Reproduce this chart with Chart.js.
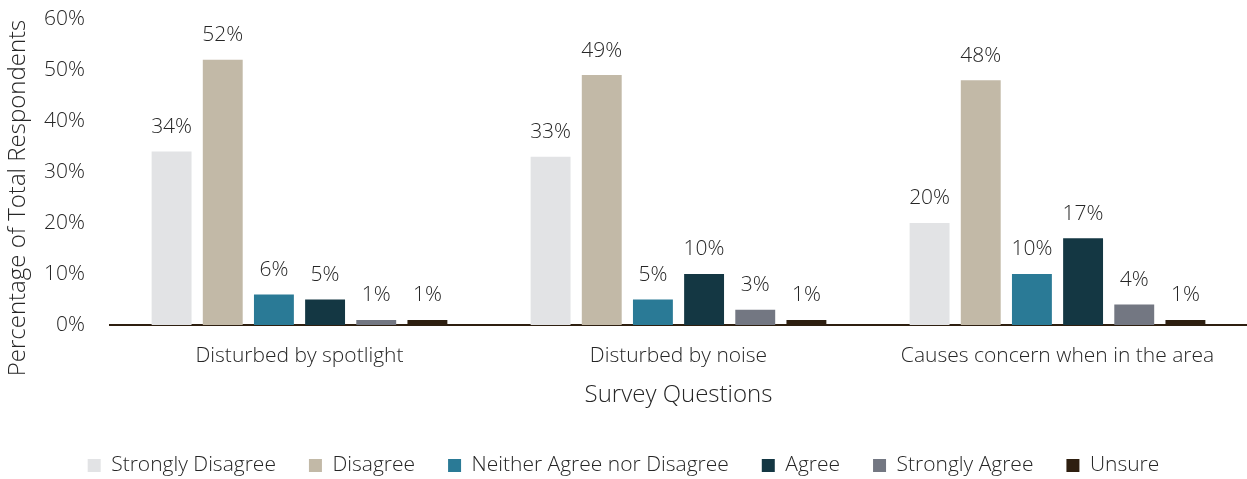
<!DOCTYPE html>
<html>
<head>
<meta charset="utf-8">
<script src="https://cdn.jsdelivr.net/npm/chart.js@4"></script>
<style>
  html, body { margin: 0; padding: 0; background: #fff; }
  #wrap { width: 1247px; height: 479px; }
</style>
</head>
<body>
<div id="wrap"><canvas id="surveyChart"></canvas></div>
<script>
const questions = ["Disturbed by spotlight", "Disturbed by noise", "Causes concern when in the area"];
const responses = ["Strongly Disagree", "Disagree", "Neither Agree nor Disagree", "Agree", "Strongly Agree", "Unsure"];
const strongDisagree = [34, 33, 20];
const disagree = [52, 49, 48];
const neither = [6, 5, 10];
const agree = [5, 10, 17];
const strongAgree = [1, 3, 4];
const unsure = [1, 1, 1];
const yTicks = [0, 10, 20, 30, 40, 50, 60];

const seriesValues = [strongDisagree, disagree, neither, agree, strongAgree, unsure];
const seriesColors = ["#e2e3e5", "#c2b9a7", "#2a7a96", "#143743", "#737782", "#2e1f10"];

const FONT = "'Open Sans', sans-serif";
const TEXT = "#262626";
const Y_TITLE = "Percentage of Total Respondents";

// Draws the percentage above each bar
const valueLabels = {
  id: "valueLabels",
  afterDatasetsDraw(chart) {
    const ctx = chart.ctx;
    ctx.save();
    ctx.font = "300 21px " + FONT;
    ctx.fillStyle = TEXT;
    ctx.textAlign = "center";
    ctx.textBaseline = "bottom";
    chart.data.datasets.forEach((ds, i) => {
      chart.getDatasetMeta(i).data.forEach((bar, j) => {
        ctx.fillText(ds.data[j] + "%", bar.x, bar.y - 14);
      });
    });
    ctx.restore();
  }
};

// Y title, sitting a little below the middle of the plot
const yTitle = {
  id: "yTitle",
  afterDraw(chart) {
    const ctx = chart.ctx;
    const area = chart.chartArea;
    const midY = (area.top + area.bottom) / 2 + 26;
    ctx.save();
    ctx.font = "300 24px " + FONT;
    ctx.fillStyle = TEXT;
    ctx.textAlign = "center";
    ctx.textBaseline = "middle";
    ctx.translate(18, midY);
    ctx.rotate(-Math.PI / 2);
    ctx.fillText(Y_TITLE, 0, 0);
    ctx.restore();
  }
};

new Chart(document.getElementById("surveyChart"), {
  type: "bar",
  data: {
    labels: questions,
    datasets: responses.map((name, i) => ({
      label: name,
      data: seriesValues[i],
      backgroundColor: seriesColors[i],
      barPercentage: 0.78,
      categoryPercentage: 0.81
    }))
  },
  options: {
    responsive: true,
    maintainAspectRatio: false,
    animation: false,
    layout: { padding: { top: 0, right: 0, left: 0, bottom: -7 } },
    scales: {
      x: {
        grid: { display: false },
        border: { color: "#2e1f10", width: 2 },
        ticks: { color: TEXT, font: { family: FONT, size: 21, weight: 300 }, padding: 10 },
        title: { display: true, text: "Survey Questions", color: TEXT, font: { family: FONT, size: 24, weight: 300 }, padding: { top: 3, bottom: 12 } }
      },
      y: {
        min: 0,
        max: 60,
        afterBuildTicks(axis) { axis.ticks = yTicks.map(v => ({ value: v })); },
        afterFit(axis) {
          axis.width = 110;
          axis.paddingTop = 19;
        },
        grid: { display: false, drawTicks: false },
        border: { display: false },
        ticks: { color: TEXT, font: { family: FONT, size: 21, weight: 300 }, padding: 25, callback: v => v + "%" }
      }
    },
    plugins: {
      legend: {
        position: "bottom",
        labels: {
          color: TEXT,
          font: { family: FONT, size: 21, weight: 300 },
          boxWidth: 13,
          boxHeight: 13,
          padding: 33
        }
      },
      tooltip: { enabled: false }
    }
  },
  plugins: [valueLabels, yTitle]
});
</script>
</body>
</html>
